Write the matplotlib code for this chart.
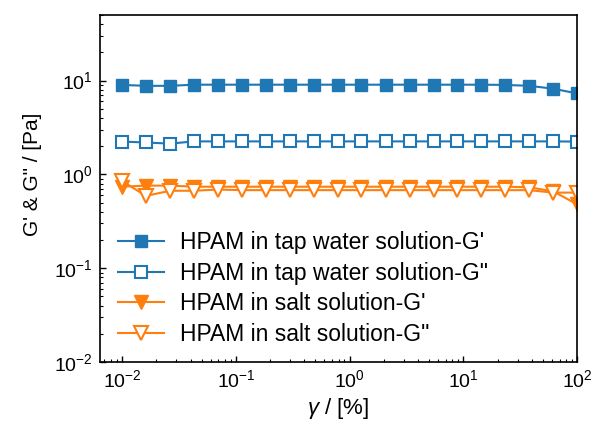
import matplotlib
matplotlib.use("Agg")
import matplotlib.pyplot as plt
from matplotlib.ticker import LogLocator, NullFormatter

plt.rcParams['font.family'] = ['Liberation Sans', 'DejaVu Sans']
plt.rcParams['mathtext.fontset'] = 'custom'
plt.rcParams['mathtext.rm'] = 'Liberation Sans'
plt.rcParams['mathtext.it'] = 'Liberation Sans:italic'

strain = [0.01, 0.0162, 0.0264, 0.0428, 0.0695, 0.113, 0.183, 0.298, 0.483, 0.785,
          1.27, 2.07, 3.36, 5.46, 8.86, 14.4, 23.4, 37.9, 61.6, 100.0]
gp_tap = [9.0, 8.8, 8.8, 9.05, 9.05, 9.05, 9.05, 9.05, 9.05, 9.05,
          9.05, 9.05, 9.05, 9.05, 9.05, 9.05, 9.0, 8.8, 8.2, 7.3]
gpp_tap = [2.24, 2.19, 2.13, 2.25, 2.25, 2.25, 2.25, 2.25, 2.25, 2.25,
           2.25, 2.25, 2.25, 2.25, 2.25, 2.25, 2.25, 2.25, 2.25, 2.24]
gp_salt = [0.74, 0.76, 0.76, 0.74, 0.74, 0.74, 0.74, 0.74, 0.74, 0.74,
           0.74, 0.74, 0.74, 0.74, 0.74, 0.74, 0.74, 0.73, 0.66, 0.48]
gpp_salt = [0.85, 0.59, 0.67, 0.67, 0.69, 0.68, 0.68, 0.68, 0.68, 0.68,
            0.68, 0.68, 0.68, 0.68, 0.68, 0.68, 0.68, 0.68, 0.64, 0.64]
labels = ["HPAM in tap water solution-G'", 'HPAM in tap water solution-G"',
          "HPAM in salt solution-G'", 'HPAM in salt solution-G"']

fig = plt.figure(figsize=(5.92, 4.30), dpi=100)
ax = fig.add_axes([0.169, 0.158, 0.806, 0.807])

c0, c1 = '#1f77b4', '#ff7f0e'
ms = 8.5
ax.plot(strain, gp_tap, '-s', color=c0, ms=ms, lw=1.5, label=labels[0])
ax.plot(strain, gpp_tap, '-s', color=c0, ms=ms, lw=1.5, mfc='white', mew=1.5, label=labels[1])
ax.plot(strain, gp_salt, '-v', color=c1, ms=ms + 1, lw=1.5, label=labels[2])
ax.plot(strain, gpp_salt, '-v', color=c1, ms=ms + 1, lw=1.5, mfc='white', mew=1.5, label=labels[3])

ax.set_xscale('log')
ax.set_yscale('log')
ax.set_xlim(0.0064, 100)
ax.set_ylim(0.01, 50)
ax.xaxis.set_major_locator(LogLocator(base=10, numticks=10))
ax.yaxis.set_major_locator(LogLocator(base=10, numticks=10))
ax.xaxis.set_minor_locator(LogLocator(base=10, subs=range(2, 10), numticks=20))
ax.yaxis.set_minor_locator(LogLocator(base=10, subs=range(2, 10), numticks=20))
ax.xaxis.set_minor_formatter(NullFormatter())
ax.yaxis.set_minor_formatter(NullFormatter())
ax.tick_params(which='both', direction='in', top=False, right=False, labelsize=14)
ax.tick_params(which='major', length=4, width=1, pad=5)
ax.tick_params(which='minor', length=2.5, width=0.8)
for s in ax.spines.values():
    s.set_linewidth(1.2)

ax.set_xlabel(r'$\gamma$ / [%]', fontsize=16, labelpad=4)
ax.set_ylabel('G\' & G" / [Pa]', fontsize=15)
ax.yaxis.set_label_coords(-0.122, 0.54)

ax.legend(loc='lower left', bbox_to_anchor=(-0.005, -0.013), frameon=False, fontsize=16.5,
          handlelength=2.0, labelspacing=0.33, handletextpad=0.7)

fig.savefig('out.png', dpi=100)
